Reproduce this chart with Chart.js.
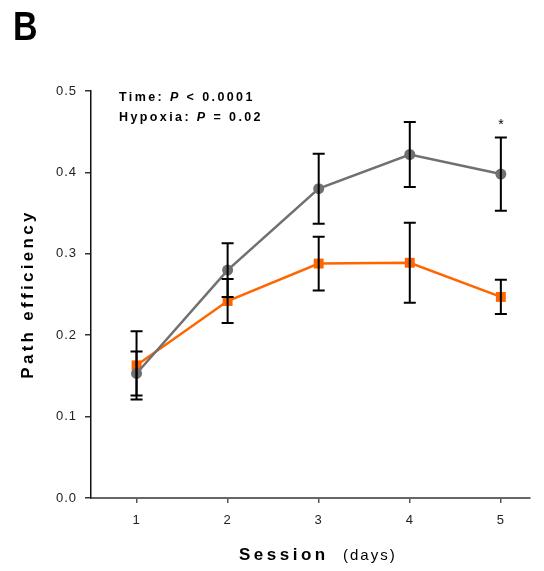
<!DOCTYPE html>
<html>
<head>
<meta charset="utf-8">
<script src="https://cdn.jsdelivr.net/npm/chart.js@4/dist/chart.umd.min.js"></script>
<style>
  html, body { margin: 0; padding: 0; background: #fff; }
  #wrap { width: 544px; height: 571px; }
</style>
</head>
<body>
<div id="wrap"><canvas id="chart" width="544" height="571"></canvas></div>
<script>
// DATA
const sessions = [1, 2, 3, 4, 5];
const yTickLabels = ["0.0", "0.1", "0.2", "0.3", "0.4", "0.5"];

const normoxiaMean = [0.153, 0.280, 0.380, 0.422, 0.398];
const normoxiaErr  = [0.027, 0.033, 0.043, 0.040, 0.045];

const hypoxiaMean = [0.163, 0.242, 0.288, 0.289, 0.247];
const hypoxiaErr  = [0.042, 0.027, 0.033, 0.049, 0.021];

// significance marks: session -> value where the star sits
const starSessions = [5];
const starValues = [0.462];

const GRAY = "#707070";
const ORANGE = "#ff6600";

function spaced(ctx, px) {
    ctx.letterSpacing = px + "px";
}

// draws error bars through the scales
const errorBars = {
    id: "errorBars",
    afterDatasetsDraw(chart) {
        const ctx = chart.ctx;
        const xs = chart.scales.x, ys = chart.scales.y;
        const sets = [[normoxiaMean, normoxiaErr], [hypoxiaMean, hypoxiaErr]];
        ctx.save();
        ctx.strokeStyle = "#000";
        ctx.lineWidth = 2;
        sets.forEach(([m, e]) => {
            sessions.forEach((s, i) => {
                const x = xs.getPixelForValue(s);
                const top = ys.getPixelForValue(m[i] + e[i]);
                const bot = ys.getPixelForValue(m[i] - e[i]);
                ctx.beginPath();
                ctx.moveTo(x, top); ctx.lineTo(x, bot);
                ctx.moveTo(x - 6, top); ctx.lineTo(x + 6, top);
                ctx.moveTo(x - 6, bot); ctx.lineTo(x + 6, bot);
                ctx.stroke();
            });
        });
        // stars
        ctx.fillStyle = "#000";
        spaced(ctx, 0);
        ctx.font = "14px 'Liberation Sans', Arial, sans-serif";
        ctx.textAlign = "center";
        ctx.textBaseline = "middle";
        starSessions.forEach((s, i) => {
            ctx.fillText("*", xs.getPixelForValue(s), ys.getPixelForValue(starValues[i]) + 3);
        });
        ctx.restore();
    }
};

// titles, panel letter and stats text
const labels = {
    id: "labels",
    beforeDraw(chart) {
        spaced(chart.ctx, 1);
    },
    afterDraw(chart) {
        const ctx = chart.ctx;
        const font = "'Liberation Sans', Arial, sans-serif";
        ctx.save();
        ctx.fillStyle = "#000";
        ctx.textBaseline = "alphabetic";
        ctx.textAlign = "left";

        // panel letter (narrow bold)
        spaced(ctx, 0);
        ctx.save();
        ctx.translate(13, 40);
        ctx.scale(0.85, 1);
        ctx.font = "bold 40px " + font;
        ctx.fillText("B", 0, 0);
        ctx.restore();

        // stats annotation
        const lines = [
            [["Time: ", "bold"], ["P", "italic bold"], [" < 0.0001", "bold"]],
            [["Hypoxia: ", "bold"], ["P", "italic bold"], [" = 0.02", "bold"]]
        ];
        spaced(ctx, 2.4);
        lines.forEach((parts, li) => {
            let x = 119;
            const y = 101 + li * 20;
            parts.forEach(([t, st]) => {
                ctx.font = st + " 12.5px " + font;
                ctx.fillText(t, x, y);
                x += ctx.measureText(t).width;
            });
        });

        // x title
        spaced(ctx, 3.5);
        ctx.font = "bold 17px " + font;
        ctx.fillText("Session", 239, 560);
        spaced(ctx, 2);
        ctx.font = "15px " + font;
        ctx.fillText("(days)", 343, 560);

        // y title
        ctx.translate(33, 294);
        ctx.rotate(-Math.PI / 2);
        ctx.textAlign = "center";
        spaced(ctx, 3.3);
        ctx.font = "bold 17px " + font;
        ctx.fillText("Path efficiency", 0, 0);
        ctx.restore();
    }
};

new Chart(document.getElementById("chart"), {
    type: "line",
    data: {
        datasets: [
            {
                label: "Normoxia",
                data: sessions.map((s, i) => ({ x: s, y: normoxiaMean[i] })),
                borderColor: GRAY,
                backgroundColor: GRAY,
                borderWidth: 2.5,
                pointStyle: "circle",
                pointRadius: 5.5,
                pointBorderWidth: 0,
                tension: 0
            },
            {
                label: "Hypoxia",
                data: sessions.map((s, i) => ({ x: s, y: hypoxiaMean[i] })),
                borderColor: ORANGE,
                backgroundColor: ORANGE,
                borderWidth: 2.5,
                pointStyle: "rect",
                pointRadius: 7,
                pointBorderWidth: 0,
                tension: 0
            }
        ]
    },
    options: {
        responsive: false,
        animation: false,
        layout: { padding: { top: 91, right: 14, left: 0, bottom: 0 } },
        plugins: { legend: { display: false }, tooltip: { enabled: false } },
        scales: {
            x: {
                type: "linear",
                min: 0.5,
                max: 5.32,
                afterFit: s => { s.height = 73; },
                afterBuildTicks: s => { s.ticks = sessions.map(v => ({ value: v })); },
                grid: { drawOnChartArea: false, drawTicks: true, tickLength: 5, color: "#555", lineWidth: 1.5 },
                border: { display: true, color: "#666", width: 2 },
                ticks: {
                    color: "#222",
                    padding: 10,
                    font: { family: "'Liberation Sans', Arial, sans-serif", size: 13 },
                    callback: v => String(v)
                }
            },
            y: {
                min: 0,
                max: 0.5,
                afterFit: s => { s.width = 91; },
                afterBuildTicks: s => { s.ticks = yTickLabels.map(t => ({ value: parseFloat(t) })); },
                grid: { drawOnChartArea: false, drawTicks: true, tickLength: 6, color: "#333", lineWidth: 1.5 },
                border: { display: true, color: "#111", width: 1.5 },
                ticks: {
                    color: "#222",
                    padding: 8,
                    font: { family: "'Liberation Sans', Arial, sans-serif", size: 13 },
                    callback: (v, i) => yTickLabels[i]
                }
            }
        }
    },
    plugins: [errorBars, labels]
});
</script>
</body>
</html>
